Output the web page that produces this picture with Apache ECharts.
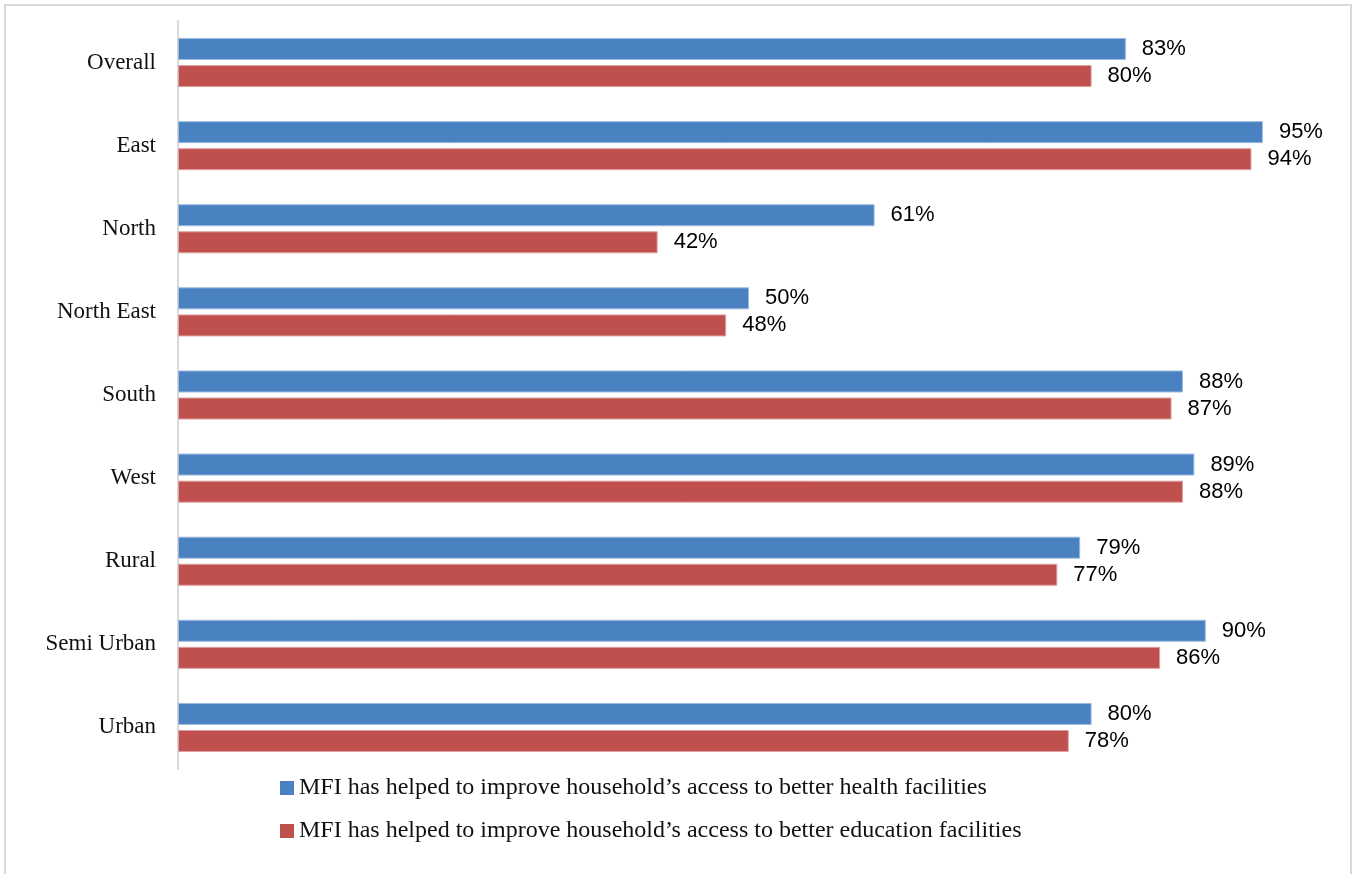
<!DOCTYPE html>
<html>
<head>
<meta charset="utf-8">
<script src="https://cdn.jsdelivr.net/npm/echarts@6/dist/echarts.min.js"></script>
<style>
  html, body { margin: 0; padding: 0; background: #fff; }
  #chart { width: 1358px; height: 874px; }
</style>
</head>
<body>
<div id="chart"></div>
<script>
// categories, top to bottom
const categories = ["Overall", "East", "North", "North East", "South", "West", "Rural", "Semi Urban", "Urban"];
const healthValues = [83, 95, 61, 50, 88, 89, 79, 90, 80];
const educationValues = [80, 94, 42, 48, 87, 88, 77, 86, 78];
const seriesNames = [
  "MFI has helped to improve household\u2019s access to better health facilities",
  "MFI has helped to improve household\u2019s access to better education facilities"
];

const chart = echarts.init(document.getElementById("chart"));

const labelStyle = {
  show: true,
  position: "right",
  distance: 16,
  formatter: "{c}%",
  color: "#000",
  fontSize: 22,
  fontFamily: "Liberation Sans"
};

const option = {
  animation: false,
  graphic: [
    {
      type: "rect",
      shape: { x: 5, y: 5, width: 1346, height: 890 },
      style: { fill: "none", stroke: "#d9d9d9", lineWidth: 2 }
    }
  ],
  grid: {
    left: 178,
    right: 38,
    top: 21,
    height: 748,
    containLabel: false
  },
  legend: {
    orient: "vertical",
    left: 275,
    top: 771,
    itemWidth: 14,
    itemHeight: 14,
    itemGap: 19,
    icon: "rect",
    itemStyle: { borderWidth: 0 },
    textStyle: {
      fontFamily: "Liberation Serif",
      fontSize: 24,
      lineHeight: 24,
      color: "#111"
    },
    data: seriesNames
  },
  xAxis: {
    type: "value",
    min: 0,
    max: 100,
    show: false
  },
  yAxis: {
    type: "category",
    data: categories,
    inverse: true,
    axisLine: { show: true, lineStyle: { color: "#d9d9d9", width: 2 } },
    axisTick: { show: false },
    axisLabel: {
      margin: 22,
      color: "#111",
      fontSize: 23,
      fontFamily: "Liberation Serif"
    }
  },
  series: [
    {
      name: seriesNames[0],
      type: "bar",
      data: healthValues,
      barWidth: 22,
      barGap: "23%",
      itemStyle: { color: "#4a81c0", borderColor: "#9dbbe0", borderWidth: 1 },
      label: labelStyle
    },
    {
      name: seriesNames[1],
      type: "bar",
      data: educationValues,
      barWidth: 22,
      itemStyle: { color: "#c0504d", borderColor: "#dea0a0", borderWidth: 1 },
      label: labelStyle
    }
  ]
};

chart.setOption(option);
</script>
</body>
</html>
